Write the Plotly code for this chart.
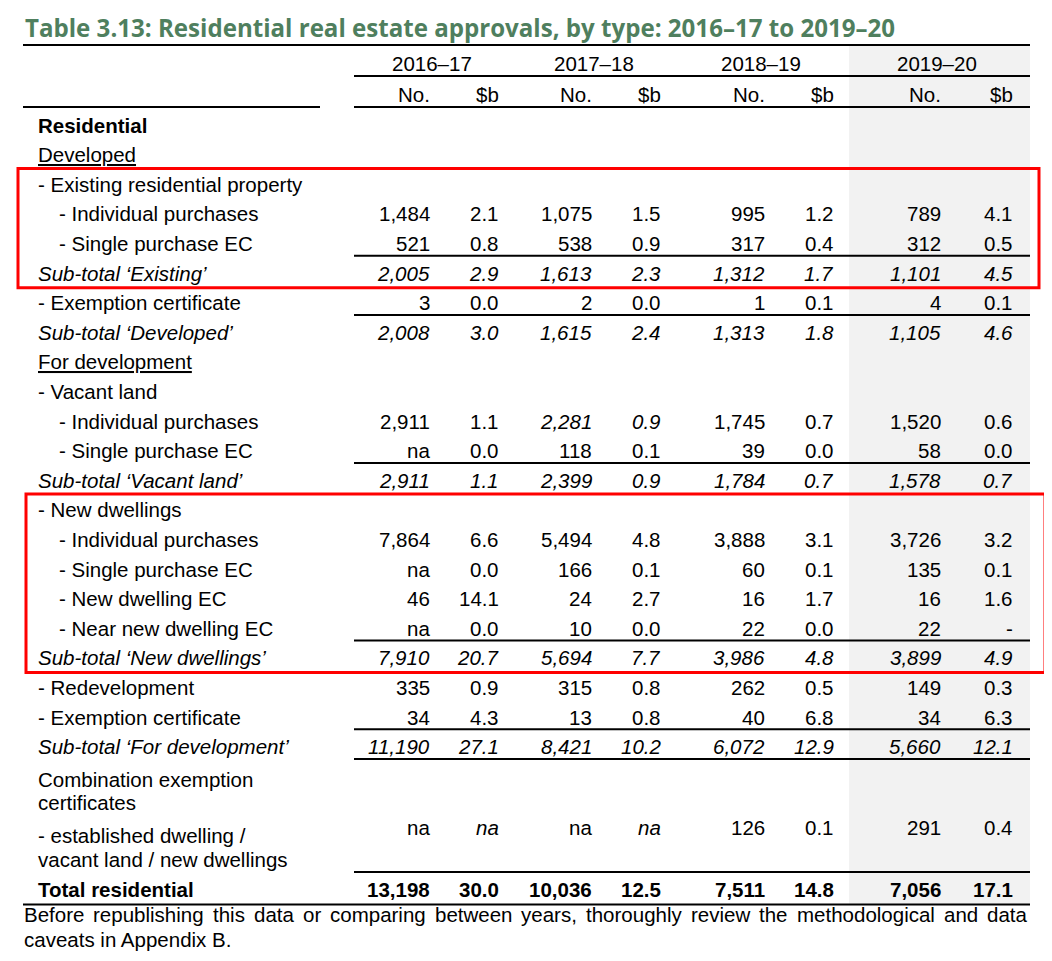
import plotly.graph_objects as go

# ---------------- data ----------------
TITLE = "Table 3.13: Residential real estate approvals, by type: 2016–17 to 2019–20"
years = ["2016–17", "2017–18", "2018–19", "2019–20"]
subheads = ["No.", "$b"]

row_labels = [
    "Residential",
    "Developed",
    "- Existing residential property",
    "- Individual purchases",
    "- Single purchase EC",
    "Sub-total ‘Existing’",
    "- Exemption certificate",
    "Sub-total ‘Developed’",
    "For development",
    "- Vacant land",
    "- Individual purchases",
    "- Single purchase EC",
    "Sub-total ‘Vacant land’",
    "- New dwellings",
    "- Individual purchases",
    "- Single purchase EC",
    "- New dwelling EC",
    "- Near new dwelling EC",
    "Sub-total ‘New dwellings’",
    "- Redevelopment",
    "- Exemption certificate",
    "Sub-total ‘For development’",
    "Combination exemption|certificates|- established dwelling /|vacant land / new dwellings",
    "Total residential",
]
row_style = ["bold", "underline", "plain", "plain", "plain", "italic", "plain", "italic",
             "underline", "plain", "plain", "plain", "italic", "plain", "plain", "plain",
             "plain", "plain", "italic", "plain", "plain", "italic", "plain", "bold"]
row_indent = [0, 0, 0, 1, 1, 0, 0, 0, 0, 0, 1, 1, 0, 0, 1, 1, 1, 1, 0, 0, 0, 0, 0, 0]

no_1617 = ["", "", "", "1,484", "521", "2,005", "3", "2,008", "", "", "2,911", "na", "2,911", "",
           "7,864", "na", "46", "na", "7,910", "335", "34", "11,190", "na", "13,198"]
b_1617 = ["", "", "", "2.1", "0.8", "2.9", "0.0", "3.0", "", "", "1.1", "0.0", "1.1", "",
          "6.6", "0.0", "14.1", "0.0", "20.7", "0.9", "4.3", "27.1", "na", "30.0"]
no_1718 = ["", "", "", "1,075", "538", "1,613", "2", "1,615", "", "", "2,281", "118", "2,399", "",
           "5,494", "166", "24", "10", "5,694", "315", "13", "8,421", "na", "10,036"]
b_1718 = ["", "", "", "1.5", "0.9", "2.3", "0.0", "2.4", "", "", "0.9", "0.1", "0.9", "",
          "4.8", "0.1", "2.7", "0.0", "7.7", "0.8", "0.8", "10.2", "na", "12.5"]
no_1819 = ["", "", "", "995", "317", "1,312", "1", "1,313", "", "", "1,745", "39", "1,784", "",
           "3,888", "60", "16", "22", "3,986", "262", "40", "6,072", "126", "7,511"]
b_1819 = ["", "", "", "1.2", "0.4", "1.7", "0.1", "1.8", "", "", "0.7", "0.0", "0.7", "",
          "3.1", "0.1", "1.7", "0.0", "4.8", "0.5", "6.8", "12.9", "0.1", "14.8"]
no_1920 = ["", "", "", "789", "312", "1,101", "4", "1,105", "", "", "1,520", "58", "1,578", "",
           "3,726", "135", "16", "22", "3,899", "149", "34", "5,660", "291", "7,056"]
b_1920 = ["", "", "", "4.1", "0.5", "4.5", "0.1", "4.6", "", "", "0.6", "0.0", "0.7", "",
          "3.2", "0.1", "1.6", "-", "4.9", "0.3", "6.3", "12.1", "0.4", "17.1"]

# cells printed in italics in the source (row, column)
italic_cells = [(10, 2), (10, 3), (22, 1), (22, 3)]
# rows followed by a rule across the data columns
rule_after_rows = [4, 6, 11, 17, 20, 21, 22]
# highlighted row ranges (first, last)
highlight_rows = [(2, 5), (13, 18)]

footnote = ["Before republishing this data or comparing between years, thoroughly review the methodological and data",
            "caveats in Appendix B."]

# ---------------- layout ----------------
FONT = "Liberation Sans, Arial, sans-serif"
FS = 20.5
TITLE_COLOR = "#4F7F5E"
PAGE_MARGIN = 8  # default body margin of the html page

cols = [no_1617, b_1617, no_1718, b_1718, no_1819, b_1819, no_1920, b_1920]
col_right = [431, 500, 593, 662, 766, 835, 942, 1014]
year_center = [432, 594, 761, 937]
X_LABEL, INDENT = 37, 21
X_LEFT, X_DATA, X_END = 23, 354, 1030
TOP0, PITCH = 110.2, 29.6
heights = [PITCH] * 22 + [113.0, 30.0]
tops = []
t = TOP0
for h in heights:
    tops.append(t)
    t += h

annotations = []
shapes = []


def add_text(x, y, text, anchor="left", size=FS, color="black", family=FONT):
    annotations.append(dict(x=x, y=y, xref="x", yref="y", text=text, showarrow=False,
                            xanchor=anchor, yanchor="middle", borderpad=0,
                            font=dict(family=family, size=size, color=color)))


def styled(text, style):
    if style == "bold":
        return "<b>" + text + "</b>"
    if style == "italic":
        return "<i>" + text + "</i>"
    if style == "underline":
        return "<u>" + text + "</u>"
    return text


def hline(y, x0, x1, color="black", width=2):
    shapes.append(dict(type="line", xref="x", yref="y", x0=x0, x1=x1, y0=y, y1=y,
                       line=dict(color=color, width=width)))


# Arial / Liberation Sans advance widths (1/1000 em) used to justify the footnote
ARIAL_W = {" ": 278, "a": 556, "b": 556, "c": 500, "d": 556, "e": 556, "f": 278, "g": 556,
           "h": 556, "i": 222, "j": 222, "k": 500, "l": 222, "m": 833, "n": 556, "o": 556,
           "p": 556, "q": 556, "r": 333, "s": 500, "t": 278, "u": 556, "v": 500, "w": 722,
           "x": 500, "y": 500, "z": 500, "B": 667, "A": 667, ",": 278, ".": 278}


def text_width(s, size=FS):
    return sum(ARIAL_W.get(ch, 556) for ch in s) * size / 1000.0


# grey band behind latest year
shapes.append(dict(type="rect", xref="x", yref="y", x0=849, x1=X_END, y0=45, y1=tops[-1] + heights[-1],
                   fillcolor="#F2F2F2", line=dict(width=0), layer="below"))

# title
add_text(X_LEFT + 1, 27, "<b>" + TITLE + "</b>", size=24.1, color=TITLE_COLOR, family="Open Sans, sans-serif")

# header
hline(45, X_LEFT, X_END)
for j, yr in enumerate(years):
    add_text(year_center[j], 63, yr, anchor="center")
hline(76, X_DATA, X_END)
for k, x in enumerate(col_right):
    add_text(x, 94, subheads[k % 2], anchor="right")
hline(107, X_LEFT, 320)
hline(107, X_DATA, X_END)

# body
for i, lab in enumerate(row_labels):
    style = row_style[i]
    top, h = tops[i], heights[i]
    if "|" in lab:
        parts = lab.split("|")
        offs = [18, 41, 74, 98]
        for p, o in zip(parts, offs):
            add_text(X_LABEL, top + o, styled(p, style))
        yv = top + 66
    else:
        yv = top + h / 2
        add_text(X_LABEL + INDENT * row_indent[i], yv, styled(lab, style))
    for c, col in enumerate(cols):
        v = col[i]
        if not v:
            continue
        st = "italic" if (i, c) in italic_cells else style
        if st == "underline":
            st = "plain"
        add_text(col_right[c], yv, styled(v, st), anchor="right")
    if i in rule_after_rows:
        hline(top + h - 2.5, X_DATA, X_END)

# bottom rule
hline(tops[-1] + heights[-1], X_LEFT, X_END)

# highlight boxes
box_x = [(18, 1039), (26, 1045)]
for (r0, r1), (bx0, bx1) in zip(highlight_rows, box_x):
    shapes.append(dict(type="rect", xref="x", yref="y", x0=bx0, x1=bx1,
                       y0=tops[r0] - 1, y1=tops[r1] + heights[r1],
                       line=dict(color="#FF0000", width=3), fillcolor="rgba(0,0,0,0)"))

# footnote: first line justified between X_LEFT and the right edge, last line left aligned
fy = tops[-1] + heights[-1] + 10
JUSTIFY_RIGHT = 1026
words = footnote[0].split(" ")
wsum = sum(text_width(w) for w in words)
gap = (JUSTIFY_RIGHT - X_LEFT - wsum) / (len(words) - 1)
xw = X_LEFT
for w in words:
    add_text(xw, fy, w)
    xw += text_width(w) + gap
add_text(X_LEFT, fy + 25, footnote[1])

fig = go.Figure()
fig.update_layout(
    width=1052 - PAGE_MARGIN, height=961 - PAGE_MARGIN,
    margin=dict(l=0, r=0, t=0, b=0),
    paper_bgcolor="white", plot_bgcolor="white",
    xaxis=dict(range=[PAGE_MARGIN, 1052], visible=False, fixedrange=True),
    yaxis=dict(range=[961, PAGE_MARGIN], visible=False, fixedrange=True),
    annotations=annotations, shapes=shapes, showlegend=False,
)
fig.write_html("out.html")
